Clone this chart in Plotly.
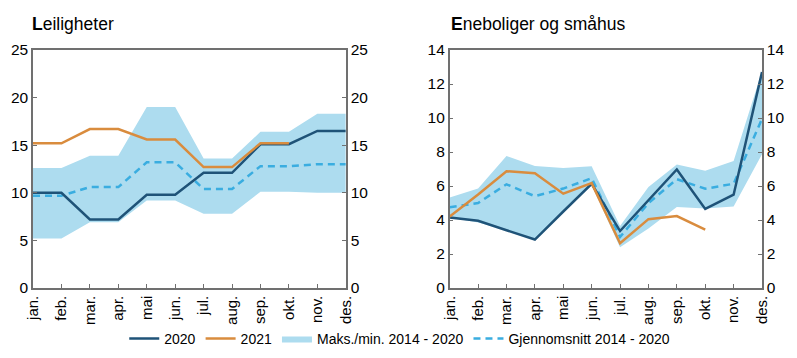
import plotly.graph_objects as go

months = ["jan.", "feb.", "mar.", "apr.", "mai", "jun.", "jul.", "aug.", "sep.", "okt.", "nov.", "des."]

# Leiligheter
lei_2020 = [10.0, 10.0, 7.2, 7.2, 9.8, 9.8, 12.1, 12.1, 15.1, 15.1, 16.5, 16.5]
lei_2021 = [15.2, 15.2, 16.7, 16.7, 15.6, 15.6, 12.7, 12.7, 15.2, 15.2]
lei_avg = [9.7, 9.7, 10.6, 10.6, 13.2, 13.2, 10.4, 10.4, 12.8, 12.8, 13.0, 13.0]
lei_max = [12.6, 12.6, 13.9, 13.9, 19.0, 19.0, 13.6, 13.6, 16.4, 16.4, 18.3, 18.3]
lei_min = [5.2, 5.2, 6.9, 6.9, 9.2, 9.2, 7.8, 7.8, 10.1, 10.1, 10.0, 10.0]

# Eneboliger og småhus
ene_2020 = [4.15, 3.95, 3.4, 2.85, 4.5, 6.13, 3.35, 5.15, 6.97, 4.65, 5.49, 12.7]
ene_2021 = [4.2, 5.5, 6.87, 6.75, 5.55, 6.17, 2.63, 4.05, 4.23, 3.43]
ene_avg = [4.75, 5.0, 6.1, 5.4, 5.85, 6.46, 3.0, 5.0, 6.4, 5.84, 6.13, 9.95]
ene_max = [5.33, 5.86, 7.77, 7.18, 7.06, 7.16, 3.65, 5.94, 7.26, 6.89, 7.47, 12.75]
ene_min = [4.15, 3.85, 3.4, 2.83, 4.5, 6.05, 2.4, 3.5, 4.77, 4.67, 4.8, 7.87]

titles = ["<b>L</b>eiligheter", "<b>E</b>neboliger og småhus"]

C2020 = "#1F5378"
C2021 = "#D98C3E"
CBAND = "#ADDCEF"
CAVG = "#3AADE0"

x = list(range(12))

fig = go.Figure()

panels = [
    (lei_2020, lei_2021, lei_avg, lei_max, lei_min, "x", "y"),
    (ene_2020, ene_2021, ene_avg, ene_max, ene_min, "x2", "y2"),
]

for i, (v20, v21, avg, mx, mn, xa, ya) in enumerate(panels):
    first = i == 0
    fig.add_trace(go.Scatter(x=x, y=mn, xaxis=xa, yaxis=ya, mode="lines",
                             line=dict(width=0, color=CBAND), showlegend=False,
                             hoverinfo="skip"))
    fig.add_trace(go.Scatter(x=x, y=mx, xaxis=xa, yaxis=ya, mode="lines",
                             line=dict(width=0, color=CBAND), fill="tonexty",
                             fillcolor=CBAND, name="Maks./min. 2014 - 2020",
                             legendrank=3, showlegend=first))
    fig.add_trace(go.Scatter(x=x, y=avg, xaxis=xa, yaxis=ya, mode="lines",
                             line=dict(width=2.5, color=CAVG, dash="7px,5px"),
                             name="Gjennomsnitt 2014 - 2020", legendrank=4,
                             showlegend=first))
    fig.add_trace(go.Scatter(x=x, y=v20, xaxis=xa, yaxis=ya, mode="lines",
                             line=dict(width=2.5, color=C2020), name="2020",
                             legendrank=1, showlegend=first))
    fig.add_trace(go.Scatter(x=x[:len(v21)], y=v21, xaxis=xa, yaxis=ya, mode="lines",
                             line=dict(width=2.5, color=C2021), name="2021",
                             legendrank=2, showlegend=first))

# dummy traces for right-hand y axes
fig.add_trace(go.Scatter(x=[], y=[], xaxis="x", yaxis="y3", showlegend=False))
fig.add_trace(go.Scatter(x=[], y=[], xaxis="x2", yaxis="y4", showlegend=False))

FONT = "Liberation Sans, Arial, sans-serif"
axcol = "#707070"

xcommon = dict(range=[0, 11], tickvals=x, ticktext=months, tickangle=-90,
               ticks="inside", ticklen=4, tickcolor=axcol, showline=True,
               linecolor=axcol, linewidth=1.5, mirror=True, showgrid=False,
               zeroline=False, tickfont=dict(size=15, color="black", family=FONT))
ycommon = dict(ticks="inside", ticklen=4, tickcolor=axcol, showline=True,
               linecolor=axcol, linewidth=1.5, showgrid=False, zeroline=False,
               tickfont=dict(size=15.5, color="black", family=FONT))

# page offset from default 8px body margin
OFF = 8
W, H = 797 - OFF, 358 - OFF
L, R = 33 - OFF, W - (762.5 - OFF)
T, B = 50 - OFF, H - (288 - OFF)
PW, PH = W - L - R, H - T - B

d1 = [0, (346 - 33) / PW]
d2 = [(450 - 33) / PW, 1]

fig.update_layout(
    width=W, height=H,
    margin=dict(l=L, r=R, t=T, b=B, autoexpand=False),
    paper_bgcolor="white", plot_bgcolor="white",
    font=dict(family=FONT, size=14, color="black"),
    xaxis=dict(domain=d1, anchor="y", **xcommon),
    xaxis2=dict(domain=d2, anchor="y2", **xcommon),
    yaxis=dict(range=[0, 25], tickvals=[0, 5, 10, 15, 20, 25], anchor="x",
               domain=[0, 1], mirror=True, **ycommon),
    yaxis3=dict(range=[0, 25], tickvals=[0, 5, 10, 15, 20, 25], anchor="x",
                overlaying="y", side="right", **ycommon),
    yaxis2=dict(range=[0, 14], tickvals=[0, 2, 4, 6, 8, 10, 12, 14], anchor="x2",
                domain=[0, 1], mirror=True, **ycommon),
    yaxis4=dict(range=[0, 14], tickvals=[0, 2, 4, 6, 8, 10, 12, 14], anchor="x2",
                overlaying="y2", side="right", **ycommon),
    showlegend=True,
    legend=dict(orientation="h", x=(400 - 33) / PW, xanchor="center",
                y=(288 - 339) / PH, yanchor="middle",
                font=dict(size=14, family=FONT),
                itemwidth=30, traceorder="normal", tracegroupgap=0,
                bgcolor="rgba(0,0,0,0)"),
    annotations=[
        dict(text=titles[0], x=(30 - 33) / PW, y=(288 - 24) / PH, xref="paper",
             yref="paper", showarrow=False, xanchor="left", yanchor="middle",
             font=dict(size=17.5, family=FONT)),
        dict(text=titles[1], x=(449 - 33) / PW, y=(288 - 24) / PH, xref="paper",
             yref="paper", showarrow=False, xanchor="left", yanchor="middle",
             font=dict(size=17.5, family=FONT)),
    ],
)

fig.write_html("out.html")
